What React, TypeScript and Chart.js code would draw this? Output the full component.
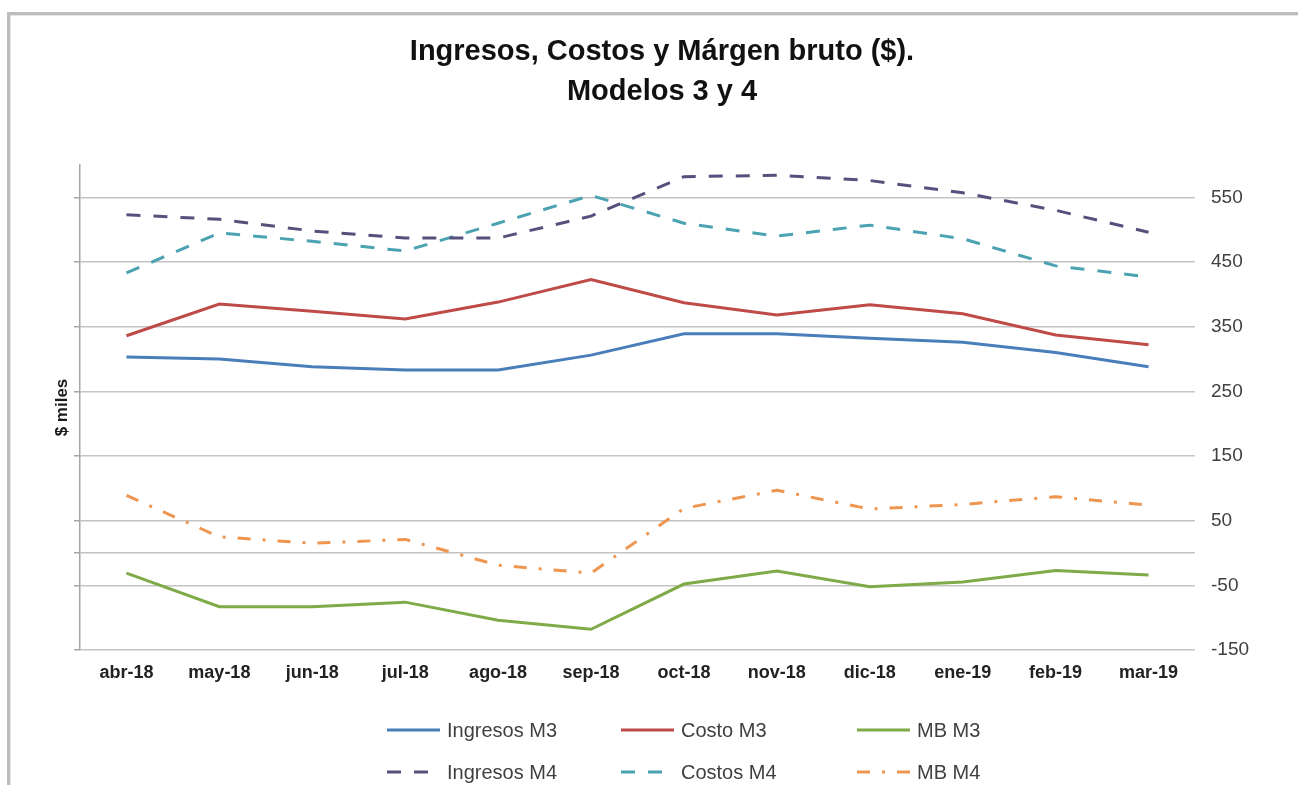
import React, { useEffect, useRef } from "react";
import { Chart, registerables } from "chart.js";

Chart.register(...registerables);

const labels = ["abr-18", "may-18", "jun-18", "jul-18", "ago-18", "sep-18", "oct-18", "nov-18", "dic-18", "ene-19", "feb-19", "mar-19"];
const ingresosM3 = [303, 300, 288, 283, 283, 306, 339, 339, 332, 326, 310, 288];
const costoM3 = [336, 385, 374, 362, 388, 423, 387, 368, 384, 370, 337, 322];
const mbM3 = [-31, -83, -83, -76, -104, -118, -48, -28, -52, -45, -27, -34];
const ingresosM4 = [523, 516, 498, 487, 487, 521, 582, 584, 576, 557, 530, 496];
const costosM4 = [433, 495, 482, 467, 510, 553, 510, 490, 507, 486, 444, 427];
const mbM4 = [89, 25, 15, 21, -19, -31, 69, 97, 68, 75, 87, 74];

const titleLines = ["Ingresos, Costos y Márgen bruto ($).", "Modelos 3 y 4"];
const leftGridTicks = [-150, -50, 0, 50, 150, 250, 350, 450, 550];
const rightTickLabels = [-150, -50, 50, 150, 250, 350, 450, 550];

const FONT = '"Liberation Sans", Arial, sans-serif';

export default function App() {
  const ref = useRef<HTMLCanvasElement>(null);

  useEffect(() => {
    const canvas = ref.current;
    if (!canvas) return;

    const decor = {
      id: "decor",
      beforeDraw(chart: any) {
        const ctx = chart.ctx;
        ctx.save();
        ctx.fillStyle = "#ffffff";
        ctx.fillRect(0, 0, chart.width, chart.height);
        // frame
        ctx.fillStyle = "#bdbdbd";
        ctx.fillRect(7, 12, chart.width - 7, 3);
        ctx.fillRect(7, 12, 3, chart.height - 12);
        ctx.fillStyle = "#e6e6e6";
        ctx.fillRect(10, 15, chart.width - 10, 1);
        ctx.fillRect(10, 15, 1, chart.height - 15);
        ctx.restore();
      },
      afterDraw(chart: any) {
        const ctx = chart.ctx;
        ctx.save();
        // title
        ctx.fillStyle = "#111111";
        ctx.font = `bold 29px ${FONT}`;
        ctx.textAlign = "center";
        ctx.textBaseline = "alphabetic";
        ctx.fillText(titleLines[0], 662, 60);
        ctx.fillText(titleLines[1], 662, 100);

        // legend (3 columns x 2 rows)
        const cols = [387, 621, 857];
        const rows = [730, 772];
        const sampleLen = 53;
        ctx.font = `20px ${FONT}`;
        ctx.textAlign = "left";
        ctx.textBaseline = "middle";
        chart.data.datasets.forEach((ds: any, i: number) => {
          const x = cols[i % 3];
          const y = rows[Math.floor(i / 3)];
          ctx.save();
          ctx.strokeStyle = ds.borderColor;
          ctx.lineWidth = ds.borderWidth;
          ctx.setLineDash(ds.borderDash || []);
          ctx.beginPath();
          ctx.moveTo(x, y);
          ctx.lineTo(x + sampleLen, y);
          ctx.stroke();
          ctx.restore();
          ctx.fillStyle = "#404040";
          ctx.fillText(ds.label, x + 60, y + 1);
        });
        ctx.restore();
      },
    };

    const chart = new Chart(canvas, {
      type: "line",
      data: {
        labels,
        datasets: [
          { label: "Ingresos M3", data: ingresosM3, borderColor: "#4A7EBB", borderWidth: 3, borderDash: [] },
          { label: "Costo M3", data: costoM3, borderColor: "#BE4B48", borderWidth: 3, borderDash: [] },
          { label: "MB M3", data: mbM3, borderColor: "#7FAA48", borderWidth: 3, borderDash: [] },
          { label: "Ingresos M4", data: ingresosM4, borderColor: "#56517C", borderWidth: 3, borderDash: [14, 13] },
          { label: "Costos M4", data: costosM4, borderColor: "#4BA3B2", borderWidth: 3, borderDash: [14, 13] },
          { label: "MB M4", data: mbM4, borderColor: "#EE9550", borderWidth: 3, borderDash: [13, 12, 3, 12] },
        ],
      },
      options: {
        responsive: false,
        animation: false,
        layout: { padding: { left: 52, right: 43, top: 165, bottom: 95 } },
        plugins: {
          legend: { display: false },
          title: { display: false },
          tooltip: { enabled: false },
        },
        elements: {
          point: { radius: 0 },
          line: { tension: 0, borderWidth: 3, fill: false },
        },
        scales: {
          x: {
            type: "category",
            offset: true,
            grid: { display: false, drawTicks: false },
            border: { display: false },
            ticks: {
              font: { family: FONT, size: 18, weight: "bold" },
              color: "#222222",
              padding: 12,
              maxRotation: 0,
              autoSkip: false,
            },
            afterFit: (s: any) => {
              s.height = 40;
            },
          },
          y: {
            position: "left",
            min: -150,
            max: 600,
            afterBuildTicks: (s: any) => {
              s.ticks = leftGridTicks.map((v) => ({ value: v }));
            },
            ticks: { display: false },
            grid: { color: "#c4c4c4", lineWidth: 1.5, tickLength: 6, tickColor: "#a6a6a6" },
            border: { display: true, color: "#a6a6a6", width: 1.5 },
            title: {
              display: true,
              text: "$ miles",
              font: { family: FONT, size: 17, weight: "bold" },
              color: "#1a1a1a",
              padding: { top: 0, bottom: 0 },
            },
            afterFit: (s: any) => {
              s.width = 28;
            },
          },
          y2: {
            position: "right",
            min: -150,
            max: 600,
            afterBuildTicks: (s: any) => {
              s.ticks = rightTickLabels.map((v) => ({ value: v }));
            },
            grid: { display: false, drawTicks: false },
            border: { display: false },
            ticks: {
              font: { family: FONT, size: 19 },
              color: "#404040",
              padding: 16,
            },
            afterFit: (s: any) => {
              s.width = 60;
            },
          },
        },
      },
      plugins: [decor],
    });

    return () => chart.destroy();
  }, []);

  return (
    <div style={{ position: "fixed", left: 0, top: 0, width: 1298, height: 785, background: "#fff" }}>
      <canvas ref={ref} width={1298} height={785} style={{ display: "block", width: 1298, height: 785 }} />
    </div>
  );
}
